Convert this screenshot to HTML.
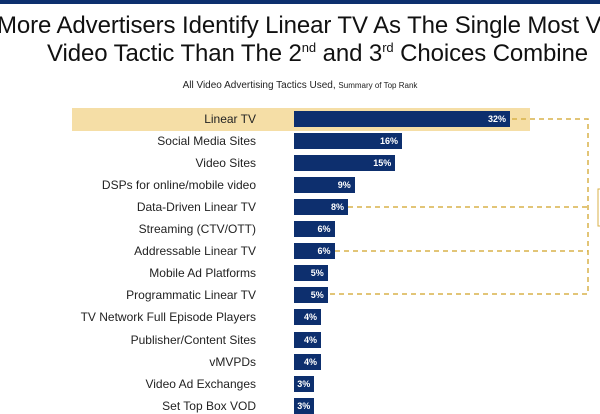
<!DOCTYPE html>
<html><head><style>
body{margin:0;width:600px;height:403px;overflow:hidden;background:#fff;font-family:"Liberation Sans",sans-serif;position:relative}
.t{position:absolute;white-space:nowrap;color:#111;font-size:24px;letter-spacing:-0.1px}
.lab{position:absolute;right:344px;font-size:12px;color:#222;white-space:nowrap;transform:translateY(-50%)}
.bar{position:absolute;left:294px;height:16px;background:#0d2f6e;transform:translateY(-50%)}
.v{position:absolute;right:4px;top:0;line-height:16px;font-size:9px;font-weight:bold;color:#fff}
</style></head><body>
<div style="position:absolute;left:0;top:0;width:600px;height:4px;background:#0d2f6e"></div>
<div class="t" style="left:-3px;top:12px">More Advertisers Identify Linear TV As The Single Most V</div>
<div class="t" style="left:47px;top:40px">Video Tactic Than The 2<sup style="font-size:13px">nd</sup> and 3<sup style="font-size:13px">rd</sup> Choices Combine</div>
<div style="position:absolute;left:0;width:600px;text-align:center;top:80px;font-size:10px;color:#222">All Video Advertising Tactics Used, <span style="font-size:8px">Summary of Top Rank</span></div>
<div style="position:absolute;left:72px;top:108px;width:458px;height:23px;background:#f5dea6"></div>
<svg width="600" height="403" style="position:absolute;left:0;top:0">
<g stroke="#d8b24a" stroke-width="1.5" stroke-dasharray="5,4" fill="none">
<path d="M512 119H588V294H328"/><path d="M348 207H588"/><path d="M335 251H588"/>
</g>
<rect x="598" y="189" width="4" height="37" fill="none" stroke="#d8b24a"/>
</svg>
<div id="c"></div>
<script>
var d=[["Linear TV",32],["Social Media Sites",16],["Video Sites",15],["DSPs for online/mobile video",9],["Data-Driven Linear TV",8],["Streaming (CTV/OTT)",6],["Addressable Linear TV",6],["Mobile Ad Platforms",5],["Programmatic Linear TV",5],["TV Network Full Episode Players",4],["Publisher/Content Sites",4],["vMVPDs",4],["Video Ad Exchanges",3],["Set Top Box VOD",3]];
var h="";d.forEach(function(r,i){var y=119+i*22.05;var w=r[1]*6.75;
h+='<div class="lab" style="top:'+y+'px">'+r[0]+'</div><div class="bar" style="top:'+y+'px;width:'+w+'px"><span class="v">'+r[1]+'%</span></div>';});
document.getElementById("c").innerHTML=h;
</script>
</body></html>
